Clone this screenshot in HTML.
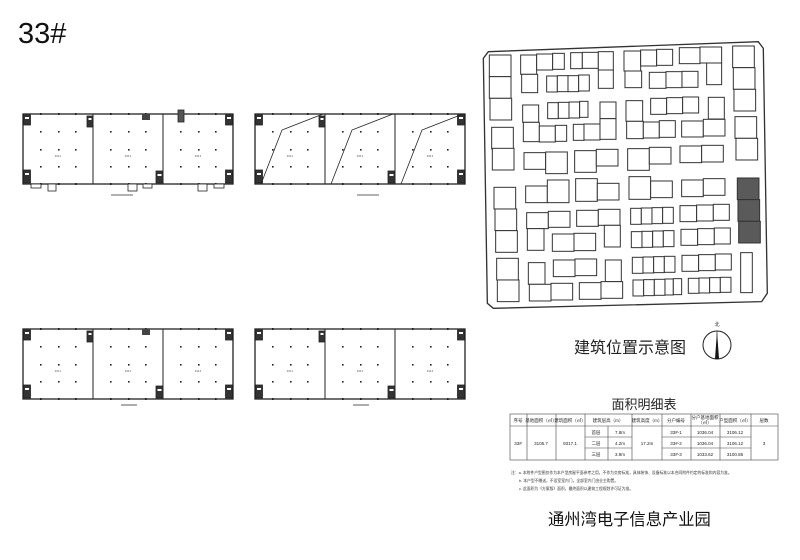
<!DOCTYPE html>
<html><head><meta charset="utf-8"><style>
html,body{margin:0;padding:0;background:#fff}
svg{display:block}
text{font-family:"Liberation Sans","Noto Sans CJK SC",sans-serif}
</style></head><body>
<svg width="800" height="560" viewBox="0 0 800 560" xmlns="http://www.w3.org/2000/svg">
<defs>
<g id="plan">
  <rect x="0" y="0" width="210" height="70" fill="none" stroke="#222" stroke-width="1.3"/>
  <line x1="70" y1="0" x2="70" y2="70" stroke="#222" stroke-width="1"/>
  <line x1="140" y1="0" x2="140" y2="70" stroke="#222" stroke-width="1"/>
  <g fill="#222">
    <rect x="17" y="17" width="1.6" height="1.6"/><rect x="35" y="17" width="1.6" height="1.6"/><rect x="52" y="17" width="1.6" height="1.6"/>
    <rect x="17" y="35" width="1.6" height="1.6"/><rect x="35" y="35" width="1.6" height="1.6"/><rect x="52" y="35" width="1.6" height="1.6"/>
    <rect x="17" y="52" width="1.6" height="1.6"/><rect x="35" y="52" width="1.6" height="1.6"/><rect x="52" y="52" width="1.6" height="1.6"/>
    <rect x="87" y="17" width="1.6" height="1.6"/><rect x="105" y="17" width="1.6" height="1.6"/><rect x="122" y="17" width="1.6" height="1.6"/>
    <rect x="87" y="35" width="1.6" height="1.6"/><rect x="105" y="35" width="1.6" height="1.6"/><rect x="122" y="35" width="1.6" height="1.6"/>
    <rect x="87" y="52" width="1.6" height="1.6"/><rect x="105" y="52" width="1.6" height="1.6"/><rect x="122" y="52" width="1.6" height="1.6"/>
    <rect x="157" y="17" width="1.6" height="1.6"/><rect x="175" y="17" width="1.6" height="1.6"/><rect x="192" y="17" width="1.6" height="1.6"/>
    <rect x="157" y="35" width="1.6" height="1.6"/><rect x="175" y="35" width="1.6" height="1.6"/><rect x="192" y="35" width="1.6" height="1.6"/>
    <rect x="157" y="52" width="1.6" height="1.6"/><rect x="175" y="52" width="1.6" height="1.6"/><rect x="192" y="52" width="1.6" height="1.6"/>
    <rect x="17" y="-1" width="1.6" height="2"/><rect x="35" y="-1" width="1.6" height="2"/><rect x="52" y="-1" width="1.6" height="2"/>
    <rect x="87" y="-1" width="1.6" height="2"/><rect x="105" y="-1" width="1.6" height="2"/><rect x="122" y="-1" width="1.6" height="2"/>
    <rect x="157" y="-1" width="1.6" height="2"/><rect x="175" y="-1" width="1.6" height="2"/><rect x="192" y="-1" width="1.6" height="2"/>
    <rect x="17" y="69" width="1.6" height="2"/><rect x="35" y="69" width="1.6" height="2"/><rect x="52" y="69" width="1.6" height="2"/>
    <rect x="87" y="69" width="1.6" height="2"/><rect x="105" y="69" width="1.6" height="2"/><rect x="122" y="69" width="1.6" height="2"/>
    <rect x="157" y="69" width="1.6" height="2"/><rect x="175" y="69" width="1.6" height="2"/><rect x="192" y="69" width="1.6" height="2"/>
  </g>
  <g fill="#333" stroke="#222" stroke-width="0.8">
    <rect x="0.5" y="1" width="7" height="10"/>
    <rect x="64" y="2" width="6" height="11"/>
    <rect x="202.5" y="1" width="7" height="10"/>
    <rect x="0.5" y="56" width="7" height="13"/>
    <rect x="133" y="57" width="7" height="12"/>
    <rect x="202.5" y="56" width="7" height="13"/>
  </g>
  <g fill="#fff">
    <rect x="2" y="3" width="4" height="2"/><rect x="65.5" y="4" width="3" height="2"/><rect x="204" y="3" width="4" height="2"/>
    <rect x="2" y="59" width="4" height="2"/><rect x="134.5" y="60" width="4" height="2"/><rect x="204" y="59" width="4" height="2"/>
  </g>
  <g font-size="2.5" fill="#555" text-anchor="middle"><text x="35" y="43">33#-1</text><text x="105" y="43">33#-2</text><text x="175" y="43">33#-3</text></g>
</g>
</defs>

<text x="18" y="43" font-size="29" fill="#111">33#</text>

<g transform="translate(23,114)">
  <use href="#plan"/>
  <rect x="119" y="0" width="8" height="6" fill="#444"/>
  <rect x="155" y="-4" width="6" height="12" fill="#555" stroke="#222" stroke-width="0.8"/>
  <g fill="#fff" stroke="#222" stroke-width="0.8">
    <rect x="8" y="70" width="10" height="4"/><rect x="25" y="70" width="8" height="7"/>
    <rect x="105" y="70" width="9" height="7"/><rect x="120" y="70" width="9" height="4"/>
    <rect x="175" y="70" width="9" height="7"/><rect x="191" y="70" width="10" height="4"/>
  </g>
  <line x1="88" y1="81" x2="110" y2="81" stroke="#333" stroke-width="0.8"/>
</g>
<g transform="translate(255,114)">
  <use href="#plan"/>
  <g fill="none" stroke="#222" stroke-width="0.8">
    <polyline points="6,70 27,16 68,0"/>
    <polyline points="76,70 97,16 138,0"/>
    <polyline points="146,70 167,16 208,0"/>
  </g>
  <line x1="102" y1="81" x2="124" y2="81" stroke="#333" stroke-width="0.8"/>
</g>
<g transform="translate(23,329)">
  <use href="#plan"/>
  <rect x="119" y="0" width="8" height="6" fill="#444"/>
  <line x1="98" y1="76" x2="114" y2="76" stroke="#333" stroke-width="0.8"/>
</g>
<g transform="translate(255,329)">
  <use href="#plan"/>
  <line x1="98" y1="76" x2="114" y2="76" stroke="#333" stroke-width="0.8"/>
</g>

<g transform="translate(480,40) scale(0.3333)" stroke="#333" stroke-width="3" fill="#fff">
  <polygon points="25,35 835,5 850,25 862,760 845,785 40,805 22,790 10,55" stroke-width="4"/>
  <g>
  <rect x="28" y="45" width="65" height="65"/><rect x="28" y="110" width="65" height="65"/><rect x="30" y="175" width="65" height="65"/>
  <rect x="35" y="262" width="65" height="65"/><rect x="37" y="325" width="65" height="65"/>
  <rect x="42" y="442" width="65" height="65"/><rect x="45" y="507" width="65" height="65"/><rect x="47" y="572" width="65" height="65"/>
  <rect x="50" y="655" width="65" height="65"/><rect x="52" y="720" width="65" height="65"/>
  <rect x="122" y="45" width="48" height="58"/><rect x="170" y="42" width="48" height="48"/><rect x="218" y="40" width="35" height="48"/><rect x="125" y="103" width="48" height="55"/>
  <rect x="200" y="108" width="32" height="48"/><rect x="232" y="107" width="32" height="48"/><rect x="264" y="107" width="32" height="48"/><rect x="296" y="105" width="32" height="48"/>
  <rect x="272" y="38" width="35" height="48"/><rect x="307" y="37" width="48" height="48"/><rect x="355" y="35" width="45" height="55"/><rect x="355" y="90" width="45" height="55"/>
  <rect x="432" y="33" width="50" height="60"/><rect x="482" y="30" width="48" height="48"/><rect x="530" y="28" width="48" height="48"/><rect x="435" y="93" width="50" height="50"/>
  <rect x="508" y="97" width="50" height="48"/><rect x="558" y="95" width="48" height="48"/><rect x="606" y="94" width="48" height="48"/>
  <rect x="598" y="23" width="62" height="48"/><rect x="660" y="21" width="65" height="48"/><rect x="680" y="69" width="45" height="65"/>
  <rect x="758" y="18" width="65" height="65"/><rect x="760" y="83" width="65" height="65"/><rect x="762" y="148" width="65" height="65"/>
  <rect x="128" y="195" width="48" height="52"/><rect x="130" y="247" width="48" height="58"/><rect x="178" y="258" width="48" height="48"/><rect x="226" y="256" width="34" height="48"/>
  <rect x="203" y="188" width="32" height="48"/><rect x="235" y="187" width="32" height="48"/><rect x="267" y="186" width="32" height="48"/><rect x="299" y="184" width="25" height="48"/>
  <rect x="280" y="253" width="32" height="48"/><rect x="312" y="252" width="48" height="48"/><rect x="360" y="186" width="48" height="50"/><rect x="360" y="236" width="48" height="62"/>
  <rect x="438" y="182" width="50" height="62"/><rect x="440" y="244" width="50" height="52"/><rect x="490" y="246" width="48" height="48"/><rect x="538" y="242" width="48" height="50"/>
  <rect x="512" y="175" width="48" height="48"/><rect x="560" y="173" width="48" height="48"/><rect x="608" y="171" width="48" height="48"/>
  <rect x="685" y="172" width="48" height="65"/><rect x="605" y="243" width="65" height="48"/><rect x="670" y="238" width="65" height="50"/>
  <rect x="765" y="230" width="65" height="65"/><rect x="768" y="295" width="65" height="65"/>
  <rect x="132" y="338" width="65" height="50"/><rect x="197" y="336" width="65" height="65"/>
  <rect x="284" y="332" width="65" height="65"/><rect x="349" y="328" width="65" height="50"/>
  <rect x="443" y="326" width="65" height="65"/><rect x="508" y="322" width="65" height="50"/>
  <rect x="600" y="318" width="65" height="50"/><rect x="665" y="316" width="65" height="50"/>
  <rect x="137" y="438" width="65" height="50"/><rect x="202" y="420" width="65" height="68"/>
  <rect x="287" y="416" width="65" height="68"/><rect x="352" y="430" width="65" height="50"/>
  <rect x="447" y="410" width="65" height="68"/><rect x="512" y="423" width="65" height="50"/>
  <rect x="605" y="420" width="65" height="50"/><rect x="670" y="416" width="65" height="50"/>
  <rect x="140" y="518" width="65" height="48"/><rect x="205" y="514" width="65" height="48"/><rect x="142" y="566" width="50" height="65"/>
  <rect x="217" y="582" width="65" height="52"/><rect x="282" y="580" width="65" height="52"/>
  <rect x="290" y="511" width="65" height="48"/><rect x="355" y="508" width="65" height="48"/><rect x="373" y="556" width="48" height="65"/>
  <rect x="452" y="505" width="32" height="48"/><rect x="484" y="504" width="32" height="48"/><rect x="516" y="503" width="32" height="48"/><rect x="548" y="502" width="32" height="48"/>
  <rect x="454" y="575" width="32" height="48"/><rect x="486" y="574" width="32" height="48"/><rect x="518" y="573" width="32" height="48"/><rect x="550" y="572" width="32" height="48"/>
  <rect x="600" y="497" width="50" height="48"/><rect x="650" y="495" width="50" height="48"/><rect x="700" y="493" width="48" height="48"/>
  <rect x="603" y="568" width="50" height="48"/><rect x="653" y="566" width="50" height="48"/><rect x="703" y="564" width="48" height="48"/>
  <rect x="220" y="660" width="65" height="50"/><rect x="285" y="657" width="65" height="50"/><rect x="376" y="660" width="48" height="65"/>
  <rect x="145" y="668" width="50" height="65"/><rect x="148" y="733" width="65" height="50"/><rect x="213" y="730" width="65" height="50"/>
  <rect x="298" y="728" width="65" height="50"/><rect x="363" y="725" width="65" height="50"/>
  <rect x="457" y="652" width="32" height="48"/><rect x="489" y="651" width="32" height="48"/><rect x="521" y="650" width="32" height="48"/><rect x="553" y="649" width="32" height="48"/>
  <rect x="459" y="720" width="32" height="48"/><rect x="491" y="719" width="32" height="48"/><rect x="523" y="718" width="32" height="48"/><rect x="555" y="717" width="25" height="48"/><rect x="580" y="716" width="25" height="48"/>
  <rect x="606" y="646" width="50" height="48"/><rect x="656" y="644" width="50" height="48"/><rect x="706" y="642" width="48" height="48"/>
  <rect x="625" y="715" width="32" height="45"/><rect x="657" y="714" width="32" height="45"/><rect x="689" y="713" width="32" height="45"/><rect x="721" y="712" width="32" height="45"/>
  <rect x="782" y="638" width="35" height="120"/>
  </g>
  <g fill="#5a5a5a"><rect x="772" y="414" width="65" height="65"/><rect x="774" y="479" width="65" height="65"/><rect x="776" y="544" width="65" height="65"/></g>
</g>

<text x="574" y="353" font-size="16" fill="#222">建筑位置示意图</text>
<circle cx="717" cy="345" r="14" fill="none" stroke="#222" stroke-width="1"/>
<polygon points="717,331 715,359 719,359" fill="#111"/>
<line x1="717" y1="331" x2="717" y2="359" stroke="#222" stroke-width="0.6"/>
<text x="717" y="326" font-size="5" text-anchor="middle" fill="#222">北</text>

<text x="644" y="409" font-size="13" text-anchor="middle" fill="#222">面积明细表</text>
<g stroke="#444" stroke-width="0.6" fill="none">
  <rect x="510" y="414" width="268" height="46"/>
  <line x1="510" y1="426" x2="778" y2="426"/>
  <line x1="527" y1="414" x2="527" y2="460"/><line x1="556" y1="414" x2="556" y2="460"/>
  <line x1="585" y1="414" x2="585" y2="460"/><line x1="608" y1="426" x2="608" y2="460"/>
  <line x1="632" y1="414" x2="632" y2="460"/><line x1="662" y1="414" x2="662" y2="460"/>
  <line x1="691" y1="414" x2="691" y2="460"/><line x1="720" y1="414" x2="720" y2="460"/>
  <line x1="751" y1="414" x2="751" y2="460"/>
  <line x1="585" y1="437" x2="632" y2="437"/><line x1="585" y1="448" x2="632" y2="448"/>
  <line x1="662" y1="437" x2="751" y2="437"/><line x1="662" y1="448" x2="751" y2="448"/>
</g>
<g font-size="4.5" fill="#222" text-anchor="middle">
  <text x="518" y="422">序号</text><text x="541" y="422">基地面积（㎡）</text><text x="570" y="422">建筑面积（㎡）</text>
  <text x="608" y="422">建筑层高（m）</text><text x="647" y="422">建筑高度（m）</text><text x="676" y="422">分户编号</text>
  <text x="705" y="419">分户基地面积</text><text x="705" y="424">（㎡）</text><text x="735" y="422">户型面积（㎡）</text><text x="764" y="422">层数</text>
  <text x="518" y="445">33#</text><text x="541" y="445">3105.7</text><text x="570" y="445">9317.1</text>
  <text x="596" y="434">首层</text><text x="620" y="434">7.8m</text>
  <text x="596" y="445">二层</text><text x="620" y="445">4.2m</text>
  <text x="596" y="456">三层</text><text x="620" y="456">3.9m</text>
  <text x="647" y="445">17.2m</text>
  <text x="676" y="434">33#-1</text><text x="705" y="434">1036.04</text><text x="735" y="434">3106.12</text>
  <text x="676" y="445">33#-2</text><text x="705" y="445">1036.04</text><text x="735" y="445">3106.12</text>
  <text x="676" y="456">33#-3</text><text x="705" y="456">1033.62</text><text x="735" y="456">3100.86</text>
  <text x="764" y="445">3</text>
</g>
<g font-size="3.8" fill="#333">
  <text x="511" y="474">注：a. 本附件户型图仅作为本户型房屋平面参考之用，不作为交房标准，具体装饰、设备标准以本合同附件约定的标准和内容为准。</text>
  <text x="519" y="482">b. 本户型不赠送，不设室室内门，全部室内门由业主购置。</text>
  <text x="519" y="490">c. 此面积为《方案版》面积，最终面积以建筑工程规划许可证为准。</text>
</g>
<text x="548" y="525" font-size="16.3" fill="#111">通州湾电子信息产业园</text>
</svg>
</body></html>
